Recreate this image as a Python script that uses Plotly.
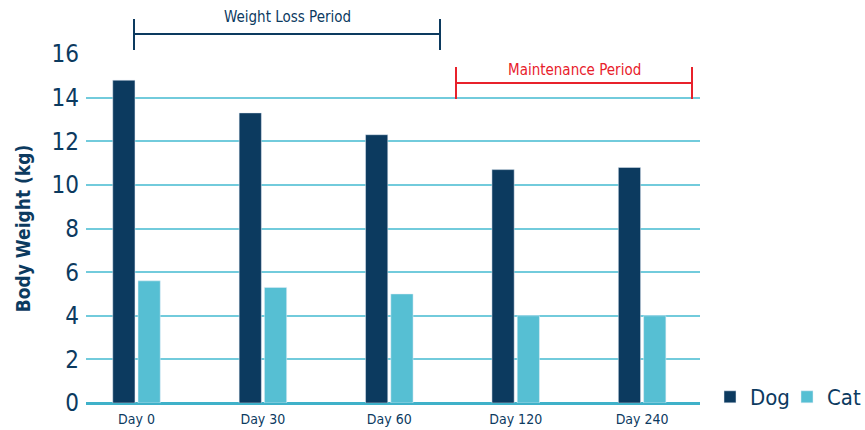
import plotly.graph_objects as go

days = ["Day 0", "Day 30", "Day 60", "Day 120", "Day 240"]
dog = [14.8, 13.3, 12.3, 10.7, 10.8]
cat = [5.6, 5.3, 5.0, 4.0, 4.0]
yticks = [0, 2, 4, 6, 8, 10, 12, 14, 16]

NAVY = "#0c3a5f"
CYAN = "#56bfd3"
GRID = "#72cbdc"
RED = "#e8212b"
FONT = "DejaVu Sans Condensed, Liberation Sans Narrow, Arial Narrow, sans-serif"

fig = go.Figure()
fig.add_trace(go.Bar(name="Dog", x=days, y=dog, marker_color=NAVY))
fig.add_trace(go.Bar(name="Cat", x=days, y=cat, marker_color=CYAN))

OFF = 0   # body margin removed by post_script below
W, H = 865 - OFF, 430 - OFF
PL, PR, PT, PB = 86, 700, 54, 403          # plot area on screen
L, R, T, B = PL - OFF, W - (PR - OFF), PT - OFF, H - (PB - OFF)

def xd(px):
    return (px - 136.5) / 126.4

def yp(py):
    return (PB - py) / (PB - PT)

def xp(px):
    return (px - PL) / (PR - PL)

shapes = []
annotations = []
for (x0, x1, y, ytop, ybot, col, txt, ty) in [
    (134, 440, 34, 19, 50, NAVY, "Weight Loss Period", 17),
    (456, 692, 83, 67, 99, RED, "Maintenance Period", 70),
]:
    shapes.append(dict(type="line", xref="x", yref="paper", x0=xd(x0), x1=xd(x1),
                       y0=yp(y), y1=yp(y), line=dict(color=col, width=2)))
    for xx in (x0, x1):
        shapes.append(dict(type="line", xref="x", yref="paper", x0=xd(xx), x1=xd(xx),
                           y0=yp(ytop), y1=yp(ybot), line=dict(color=col, width=2)))
    annotations.append(dict(xref="x", yref="paper", x=xd((x0 + x1) / 2), y=yp(ty),
                            yanchor="middle", text=txt, showarrow=False,
                            font=dict(family=FONT, size=15, color=col)))

fig.update_layout(
    width=W, height=H,
    margin=dict(l=L, r=R, t=T, b=B, autoexpand=False, pad=0),
    plot_bgcolor="white", paper_bgcolor="white",
    barmode="group", bargap=0.6, bargroupgap=0.12,
    font=dict(family=FONT, color=NAVY),
    shapes=shapes, annotations=annotations,
    legend=dict(orientation="h", x=xp(710), xanchor="left", y=yp(397), yanchor="middle",
                font=dict(family=FONT, size=22, color=NAVY), itemwidth=30,
                entrywidth=32, entrywidthmode="pixels",
                traceorder="normal", bgcolor="rgba(0,0,0,0)"),
    xaxis=dict(range=[xd(PL), xd(PR)], showgrid=False, showline=False,
               tickfont=dict(family=FONT, size=14, color=NAVY), ticks="",
               ticklabelstandoff=6),
    yaxis=dict(range=[0, 16], tickvals=yticks, showgrid=True, gridcolor=GRID, gridwidth=2,
               zeroline=True, zerolinecolor="#3fb1c9", zerolinewidth=3,
               tickfont=dict(family=FONT, size=24, color=NAVY), ticks="",
               ticklabelstandoff=6,
               title=dict(text="<b>Body Weight (kg)</b>", standoff=15,
                          font=dict(family=FONT, size=19, color=NAVY))),
)

fig.write_html(
    "out.html",
    config={"displayModeBar": False},
    post_script="document.body.style.margin='0';"
                "document.body.style.overflow='hidden';"
                "document.documentElement.style.overflow='hidden';",
)
